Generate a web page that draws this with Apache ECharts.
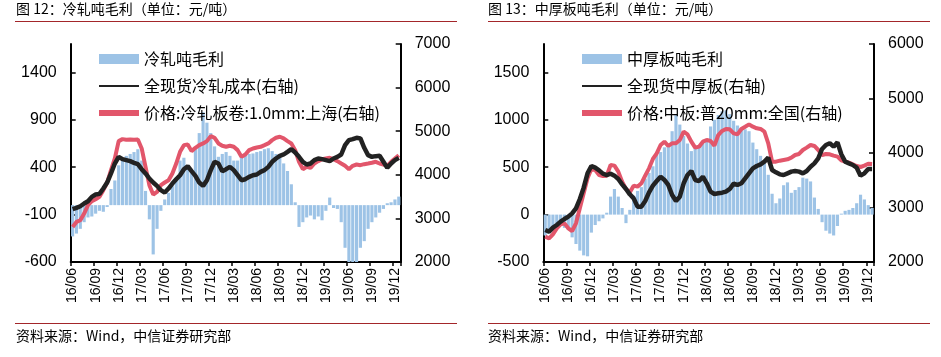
<!DOCTYPE html>
<html>
<head>
<meta charset="utf-8">
<script src="https://cdn.jsdelivr.net/npm/echarts@6/dist/echarts.min.js"></script>
<style>
html,body{margin:0;padding:0;background:#fff;}
#chart{width:941px;height:357px;}
</style>
</head>
<body>
<div id="chart"></div>
<script>
// Half-monthly categories, 2016-06-01 .. 2019-12-16
const categories = [
 '2016-06-01','2016-06-16','2016-07-01','2016-07-16','2016-08-01','2016-08-16','2016-09-01','2016-09-16','2016-10-01','2016-10-16','2016-11-01','2016-11-16','2016-12-01','2016-12-16',
 '2017-01-01','2017-01-16','2017-02-01','2017-02-16','2017-03-01','2017-03-16','2017-04-01','2017-04-16','2017-05-01','2017-05-16','2017-06-01','2017-06-16','2017-07-01','2017-07-16','2017-08-01','2017-08-16','2017-09-01','2017-09-16','2017-10-01','2017-10-16','2017-11-01','2017-11-16','2017-12-01','2017-12-16',
 '2018-01-01','2018-01-16','2018-02-01','2018-02-16','2018-03-01','2018-03-16','2018-04-01','2018-04-16','2018-05-01','2018-05-16','2018-06-01','2018-06-16','2018-07-01','2018-07-16','2018-08-01','2018-08-16','2018-09-01','2018-09-16','2018-10-01','2018-10-16','2018-11-01','2018-11-16','2018-12-01','2018-12-16',
 '2019-01-01','2019-01-16','2019-02-01','2019-02-16','2019-03-01','2019-03-16','2019-04-01','2019-04-16','2019-05-01','2019-05-16','2019-06-01','2019-06-16','2019-07-01','2019-07-16','2019-08-01','2019-08-16','2019-09-01','2019-09-16','2019-10-01','2019-10-16','2019-11-01','2019-11-16','2019-12-01','2019-12-16'
];

// Chart 12: cold-rolled
const crGross = [-330,-300,-250,-180,-130,-120,-90,-60,-70,-20, 170,260,420,480,520,540,560,590,470,150, -150,-520,-250,-60,60,130,200,290,470,500, 420,360,600,760,980,870,760,620,510,540, 560,520,470,470,500,530,540,545,560,570, 590,600,570,540,520,440,360,220,30,-230, -180,-130,-110,-150,-120,-160,-60,80,-30,-40, -180,-450,-600,-620,-600,-450,-380,-250,-180,-130, -80,-40,20,30,60,90];
const crCost = [3210,3241,3279,3341,3394,3494,3547,3563,3685,3823, 4030,4259,4412,4359,4336,4313,4275,4244,4129,4030, 3915,3823,3746,3647,3593,3685,3800,3899,3991,4129, 4198,4083,3976,3823,3746,3876,4106,4298,4259,4083, 4129,4183,4106,3991,3876,3899,3953,3991,4007,4068, 4106,4183,4298,4374,4435,4466,4527,4589,4512,4412, 4298,4236,4259,4336,4374,4359,4336,4313,4374,4412, 4466,4680,4795,4818,4849,4834,4619,4451,4412,4428, 4435,4298,4160,4259,4336,4390];
const crPrice = [2804,2919,2958,3111,3302,3394,3440,3494,3647,3823, 4106,4374,4772,4818,4803,4811,4803,4811,4604,4183, 3762,3547,3608,3762,3823,3876,4030,4259,4527,4680, 4696,4543,4619,4680,4719,4772,4887,4849,4719,4665, 4642,4665,4642,4566,4412,4466,4566,4604,4627,4642, 4680,4719,4795,4849,4872,4834,4772,4719,4566,4298, 4129,4183,4160,4259,4313,4359,4374,4389,4359,4313, 4259,4206,4129,4206,4236,4221,4244,4259,4275,4298, 4259,4236,4206,4298,4374,4451];

// Chart 13: medium-heavy plate
const plGross = [-220,-200,-140,-120,-110,-140,-160,-240,-310,-380, -430,-440,-190,-110,-70,-40,20,190,270,190, 70,-90,50,200,250,290,380,440,510,630, 660,710,740,880,1050,950,830,750,670,700, 730,770,800,930,1000,1050,1090,1100,1060,990, 940,910,900,880,760,690,620,570,420,220, 120,170,310,340,230,260,290,390,380,350, 180,60,-80,-170,-200,-220,-120,10,40,50, 70,120,210,160,100,70];
const plCost = [2587,2557,2630,2679,2740,2789,2832,2893,2985,3156, 3364,3627,3762,3731,3682,3621,3596,3621,3584,3523, 3425,3340,3242,3168,3015,3015,3119,3278,3401,3486, 3566,3505,3413,3229,3119,3199,3444,3596,3670,3505, 3486,3566,3444,3291,3248,3260,3272,3291,3340,3437, 3413,3444,3535,3627,3719,3762,3792,3841,3914,3688, 3645,3608,3596,3627,3658,3670,3658,3627,3670,3749, 3810,3902,4074,4147,4178,4116,4196,3976,3841,3810, 3780,3731,3584,3627,3707,3707];
const plPrice = [2465,2434,2508,2618,2691,2709,2618,2569,2709,2985, 3260,3535,3706,3688,3596,3578,3584,3780,3768,3658, 3474,3340,3278,3401,3382,3444,3584,3719,3890,3994, 4147,4208,4129,4178,4178,4239,4392,4343,4208,4098, 4116,4208,4239,4220,4135,4330,4404,4441,4434,4361, 4343,4441,4483,4526,4483,4453,4441,4392,4178,3841, 3841,3859,3872,3884,3914,3963,3982,4055,4098,4147, 4129,4055,3963,3982,3976,3951,3933,3865,3841,3823, 3792,3762,3743,3768,3804,3798];

const names1 = ['冷轧吨毛利','全现货冷轧成本(右轴)','价格:冷轧板卷:1.0mm:上海(右轴)'];
const names2 = ['中厚板吨毛利','全现货中厚板(右轴)','价格:中板:普20mm:全国(右轴)'];
const leftTicks1 = [-600,-100,400,900,1400];
const leftTicks2 = [-500,0,500,1000,1500];
const titles = ['图 12：冷轧吨毛利（单位：元/吨）','图 13：中厚板吨毛利（单位：元/吨）'];
const sourceText = '资料来源：Wind，中信证券研究部';

const FONT = '"Liberation Sans","Noto Sans CJK SC",sans-serif';
const CJK = '"Noto Sans CJK SC","Liberation Sans",sans-serif';
const BLUE = '#9DC3E6';
const RED = '#E2566B';
const BLACK = '#222222';
const DARKRED = '#A3262A';

const quarterly = function (idx) { return idx % 6 === 0; };
const plain = function (v) { return String(v); };

function mkX(gi) {
  return {
    type: 'category', gridIndex: gi, data: categories, boundaryGap: true,
    axisLine: {show: true, onZero: false, lineStyle: {color: '#000', width: 2}},
    axisTick: {show: true, interval: quarterly, length: 4, lineStyle: {color: '#000', width: 1.5}},
    axisLabel: {
      interval: quarterly, rotate: 90, margin: 6, fontSize: 14, color: '#000', fontFamily: FONT,
      formatter: function (v) { return v.slice(2, 4) + '/' + v.slice(5, 7); }
    },
    splitLine: {show: false}
  };
}
function mkY(gi, pos, min, max, interval, custom) {
  const o = {
    type: 'value', gridIndex: gi, position: pos, min: min, max: max, interval: interval,
    axisLine: {show: true, lineStyle: {color: '#000', width: 2}},
    axisTick: {show: true, inside: true, length: 5, lineStyle: {color: '#000', width: 1.5}},
    axisLabel: {fontSize: 16, color: '#000', margin: 14, fontFamily: FONT, formatter: plain},
    splitLine: {show: false}
  };
  if (custom) {
    o.axisLabel.customValues = custom;
    o.axisTick.customValues = custom;
  }
  return o;
}
function mkLegend(left, names) {
  return {
    orient: 'vertical', left: left, top: 46, itemWidth: 40, itemHeight: 10, itemGap: 11,
    textStyle: {fontSize: 16, color: '#000', fontFamily: CJK},
    data: [
      {name: names[0], icon: 'rect'},
      {name: names[1], icon: 'path://M0,0H40V2H0Z'},
      {name: names[2], icon: 'path://M0,0H40V6H0Z'}
    ]
  };
}
function mkSeries(gi, names, gross, cost, price) {
  return [
    {type: 'bar', name: names[0], xAxisIndex: gi, yAxisIndex: gi * 2, data: gross,
      itemStyle: {color: BLUE}, barCategoryGap: '18%', z: 1},
    {type: 'line', name: names[1], xAxisIndex: gi, yAxisIndex: gi * 2 + 1, data: cost,
      symbol: 'none', itemStyle: {color: BLACK}, lineStyle: {color: BLACK, width: 4.5}, z: 4},
    {type: 'line', name: names[2], xAxisIndex: gi, yAxisIndex: gi * 2 + 1, data: price,
      symbol: 'none', itemStyle: {color: RED}, lineStyle: {color: RED, width: 4}, z: 3}
  ];
}

const chart = echarts.init(document.getElementById('chart'));
chart.setOption({
  animation: false,
  backgroundColor: '#ffffff',
  textStyle: {fontFamily: FONT},
  grid: [
    {left: 70.7, top: 44, width: 330, height: 218},
    {left: 543.3, top: 44, width: 330.7, height: 218}
  ],
  xAxis: [mkX(0), mkX(1)],
  yAxis: [
    mkY(0, 'left', -600, 1700, 500, leftTicks1),
    mkY(0, 'right', 2000, 7000, 1000, null),
    mkY(1, 'left', -500, 1800, 500, leftTicks2),
    mkY(1, 'right', 2000, 6000, 1000, null)
  ],
  legend: [mkLegend(94, names1), mkLegend(577, names2)],
  series: mkSeries(0, names1, crGross, crCost, crPrice).concat(mkSeries(1, names2, plGross, plCost, plPrice)),
  graphic: [
    {type: 'text', left: 16, top: 2, style: {text: titles[0], font: '14px ' + CJK, fill: '#000'}},
    {type: 'text', left: 488, top: 2, style: {text: titles[1], font: '14px ' + CJK, fill: '#000'}},
    {type: 'line', shape: {x1: 15, y1: 21.5, x2: 457, y2: 21.5}, style: {stroke: DARKRED, lineWidth: 1.2}},
    {type: 'line', shape: {x1: 488, y1: 21.5, x2: 930, y2: 21.5}, style: {stroke: DARKRED, lineWidth: 1.2}},
    {type: 'line', shape: {x1: 15, y1: 323.5, x2: 457, y2: 323.5}, style: {stroke: DARKRED, lineWidth: 1.2}},
    {type: 'line', shape: {x1: 488, y1: 323.5, x2: 930, y2: 323.5}, style: {stroke: DARKRED, lineWidth: 1.2}},
    {type: 'text', left: 16, top: 329, style: {text: sourceText, font: '14px ' + CJK, fill: '#000'}},
    {type: 'text', left: 488, top: 329, style: {text: sourceText, font: '14px ' + CJK, fill: '#000'}}
  ]
});
</script>
</body>
</html>
